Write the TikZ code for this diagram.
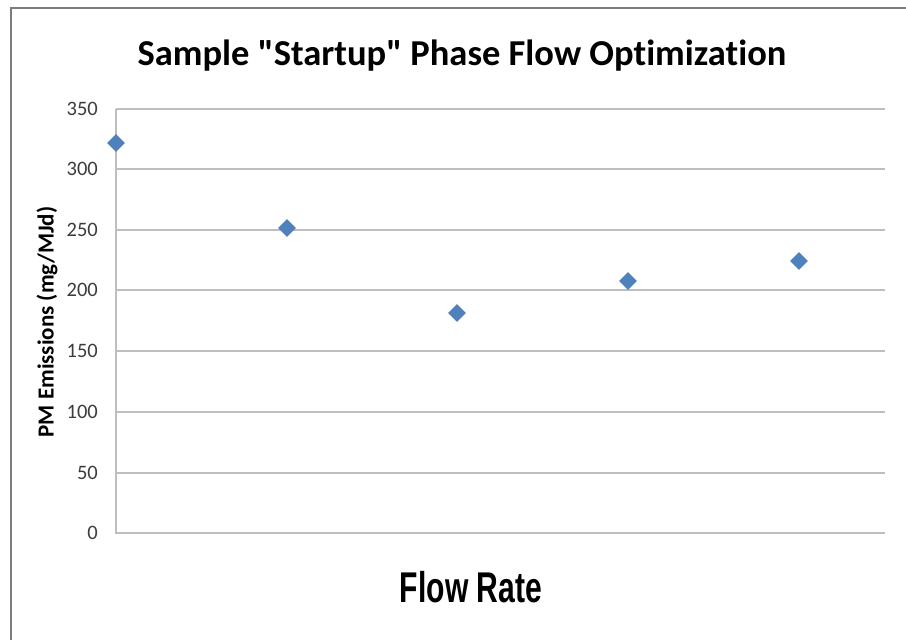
\documentclass[tikz,border=0pt]{standalone}
\usepackage{fontspec}
\usepackage{graphicx}
\defaultfontfeatures{Ligatures=NoCommon}
\setmainfont{Carlito}
\newfontfamily\calibri{Carlito}
\newfontfamily\arialfont{Liberation Sans}
\usetikzlibrary{shapes.geometric}
\definecolor{gridgray}{RGB}{190,190,190}
\definecolor{framegray}{RGB}{125,125,125}
\definecolor{markblue}{RGB}{79,129,189}
\definecolor{ticktext}{RGB}{60,60,60}
\tikzset{
  gridline/.style={draw=gridgray, line width=1.6pt},
  datapt/.style={diamond, fill=markblue, draw=none, inner sep=0pt, minimum width=18pt, minimum height=18pt},
  ticklabel/.style={anchor=east, inner sep=0pt, text=ticktext, font=\calibri\fontsize{20.5}{20.5}\selectfont},
}
\begin{document}
\begin{tikzpicture}[x=1pt, y=-1pt]
\useasboundingbox (0,0) rectangle (906,640);
\fill[white] (0,0) rectangle (906,640);
% frame
\draw[framegray, line width=2pt] (11,640) -- (11,8) -- (906,8);
% title
\node (title) at (462,65) [anchor=base, inner sep=0pt] {\calibri\fontsize{36.5}{36.5}\selectfont\bfseries Sample "Startup" Phase Flow Optimization};
% gridlines
\foreach \v/\y in {50/473,100/412,150/351,200/290,250/230,300/169,350/109} {
  \coordinate (gl\v) at (116,\y);
  \coordinate (gr\v) at (885,\y);
  \draw[gridline] (gl\v) -- (gr\v);
  \node[ticklabel] (t\v) at (98,\y) {\v};
}
\coordinate (origin) at (116,533);
\coordinate (xend) at (885,533);
\coordinate (ytop) at (116,109);
\draw[gridline] (ytop) -- (origin) -- (xend);
\node[ticklabel] (t0) at (98,533) {0};
% axis titles
\node (ylab) at (47,322) [rotate=90, inner sep=0pt] {\calibri\fontsize{23}{23}\selectfont\bfseries PM Emissions (mg/MJd)};
\node (xlab) at (471,587) [inner sep=0pt] {\scalebox{0.7}[1]{\arialfont\fontsize{43}{43}\selectfont\bfseries Flow Rate}};
% data
\node[datapt] (p1) at (116,143) {};
\node[datapt] (p2) at (287,228) {};
\node[datapt] (p3) at (457,313) {};
\node[datapt] (p4) at (628,281) {};
\node[datapt] (p5) at (799,261) {};
\end{tikzpicture}
\end{document}
